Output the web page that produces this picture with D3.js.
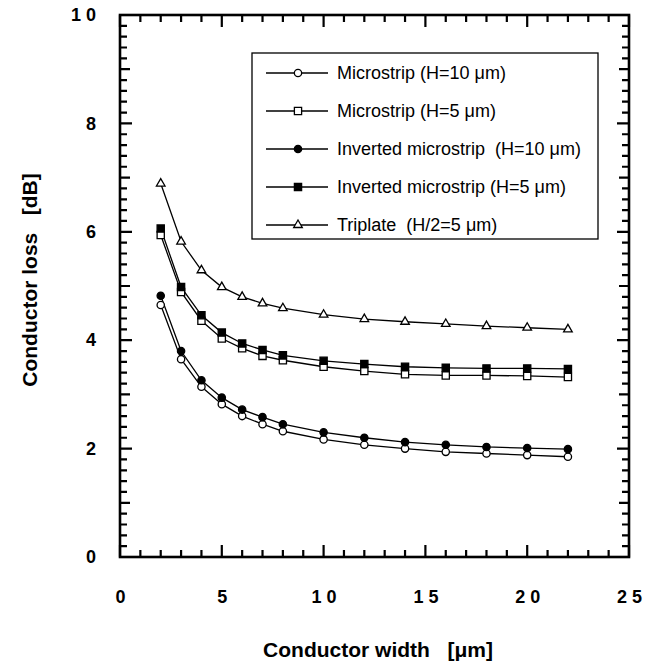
<!DOCTYPE html>
<html>
<head>
<meta charset="utf-8">
<script src="https://cdn.jsdelivr.net/npm/d3@7"></script>
<style>
  body { margin: 0; background: #fff; }
  text { font-family: "Liberation Sans", Arial, Helvetica, sans-serif; fill: #000; }
</style>
</head>
<body>
<script>
// Chart data
let widths = [2, 3, 4, 5, 6, 7, 8, 10, 12, 14, 16, 18, 20, 22];
let microstrip10 = [4.65, 3.65, 3.14, 2.82, 2.60, 2.45, 2.32, 2.17, 2.07, 2.00, 1.94, 1.91, 1.88, 1.85];
let microstrip5 = [5.94, 4.89, 4.36, 4.03, 3.85, 3.71, 3.63, 3.51, 3.43, 3.37, 3.35, 3.35, 3.34, 3.32];
let inverted10 = [4.82, 3.80, 3.26, 2.94, 2.72, 2.58, 2.45, 2.30, 2.20, 2.12, 2.07, 2.03, 2.01, 1.99];
let inverted5 = [6.06, 4.98, 4.46, 4.14, 3.94, 3.82, 3.72, 3.62, 3.56, 3.51, 3.49, 3.48, 3.48, 3.47];
let triplate = [6.89, 5.82, 5.29, 4.98, 4.80, 4.68, 4.59, 4.47, 4.39, 4.34, 4.30, 4.26, 4.23, 4.20];
let seriesNames = [
  "Microstrip (H=10 \u03bcm)",
  "Microstrip (H=5 \u03bcm)",
  "Inverted microstrip  (H=10 \u03bcm)",
  "Inverted microstrip (H=5 \u03bcm)",
  "Triplate  (H/2=5 \u03bcm)"
];
let xTickValues = [0, 5, 10, 15, 20, 25];
let xTickLabels = ["0", "5", "1 0", "1 5", "2 0", "2 5"];
let yTickValues = [0, 2, 4, 6, 8, 10];
let yTickLabels = ["0", "2", "4", "6", "8", "1 0"];

let series = [
  { name: seriesNames[0], values: microstrip10, symbol: d3.symbolCircle, size: 42, filled: false },
  { name: seriesNames[1], values: microstrip5, symbol: d3.symbolSquare, size: 52, filled: false },
  { name: seriesNames[2], values: inverted10, symbol: d3.symbolCircle, size: 42, filled: true },
  { name: seriesNames[3], values: inverted5, symbol: d3.symbolSquare, size: 52, filled: true },
  { name: seriesNames[4], values: triplate, symbol: d3.symbolTriangle, size: 32, filled: false }
];

let margin = { top: 15, right: 26, bottom: 111, left: 120 };
let width = 655 - margin.left - margin.right;
let height = 668 - margin.top - margin.bottom;

let svg = d3.select("body")
  .append("svg")
    .attr("width", 655)
    .attr("height", 668)
  .append("g")
    .attr("transform", "translate(" + margin.left + ", " + margin.top + ")");

let x = d3.scaleLinear().domain([0, 25]).range([0, width]);
let y = d3.scaleLinear().domain([0, 10]).range([height, 0]);

// Frame
svg.append("rect")
  .attr("x", 0)
  .attr("y", 0)
  .attr("width", width)
  .attr("height", height)
  .attr("fill", "none")
  .attr("stroke", "#000")
  .attr("stroke-width", 2.6);

// Inward ticks on all four sides: every 1 on x, every 0.2 on y
let tickPath = d3.path();
d3.range(0, 26).forEach((v) => {
  let len = v % 5 === 0 ? 12 : 7;
  tickPath.moveTo(x(v), height);
  tickPath.lineTo(x(v), height - len);
  tickPath.moveTo(x(v), 0);
  tickPath.lineTo(x(v), len);
});
d3.range(0, 51).forEach((k) => {
  let len = k % 10 === 0 ? 12 : (k % 5 === 0 ? 10 : 7);
  let py = y(k / 5);
  tickPath.moveTo(0, py);
  tickPath.lineTo(len, py);
  tickPath.moveTo(width, py);
  tickPath.lineTo(width - len, py);
});
svg.append("path")
  .attr("d", tickPath.toString())
  .attr("fill", "none")
  .attr("stroke", "#000")
  .attr("stroke-width", 2.2);

// Tick labels
let xLabels = svg.append("g")
  .attr("transform", "translate(0," + height + ")")
  .call(d3.axisBottom(x).tickValues(xTickValues).tickSize(0).tickPadding(33)
    .tickFormat((d, i) => xTickLabels[i]));
xLabels.select(".domain").remove();
xLabels.selectAll("text")
  .style("font-size", "18px")
  .style("font-weight", "bold")
  .style("white-space", "pre");

let yLabels = svg.append("g")
  .call(d3.axisLeft(y).tickValues(yTickValues).tickSize(0).tickPadding(24)
    .tickFormat((d, i) => yTickLabels[i]));
yLabels.select(".domain").remove();
yLabels.selectAll("text")
  .style("font-size", "18px")
  .style("font-weight", "bold")
  .style("white-space", "pre");

// Series lines and markers
let line = d3.line()
  .x((d, i) => x(widths[i]))
  .y((d) => y(d));

series.forEach((s) => {
  svg.append("path")
    .datum(s.values)
    .attr("d", line)
    .attr("fill", "none")
    .attr("stroke", "#000")
    .attr("stroke-width", 1.3);
});

series.forEach((s) => {
  svg.selectAll(null)
    .data(s.values)
    .enter()
    .append("path")
      .attr("transform", (d, i) => "translate(" + x(widths[i]) + "," + y(d) + ")")
      .attr("d", d3.symbol().type(s.symbol).size(s.size))
      .attr("fill", s.filled ? "#000" : "#fff")
      .attr("stroke", "#000")
      .attr("stroke-width", 1.3);
});

// Legend
let legend = svg.append("g")
  .attr("transform", "translate(" + (252 - margin.left) + "," + (53 - margin.top) + ")");

legend.append("rect")
  .attr("width", 346)
  .attr("height", 186)
  .attr("fill", "#fff")
  .attr("stroke", "#000")
  .attr("stroke-width", 1.3);

series.forEach((s, i) => {
  let row = legend.append("g")
    .attr("transform", "translate(0," + (20 + i * 38) + ")");
  row.append("line")
    .attr("x1", 14)
    .attr("x2", 76)
    .attr("stroke", "#000")
    .attr("stroke-width", 1.3);
  row.append("path")
    .attr("transform", "translate(46,0)")
    .attr("d", d3.symbol().type(s.symbol).size(s.size))
    .attr("fill", s.filled ? "#000" : "#fff")
    .attr("stroke", "#000")
    .attr("stroke-width", 1.3);
  row.append("text")
    .attr("x", 85)
    .attr("dy", "0.35em")
    .style("font-size", "18px")
    .style("white-space", "pre")
    .text(s.name);
});

// Axis titles
svg.append("text")
  .attr("x", 378 - margin.left)
  .attr("y", 657 - margin.top)
  .attr("text-anchor", "middle")
  .style("font-size", "21px")
  .style("font-weight", "bold")
  .style("white-space", "pre")
  .text("Conductor width   [\u03bcm]");

svg.append("text")
  .attr("transform", "rotate(-90)")
  .attr("x", -(280 - margin.top))
  .attr("y", 37 - margin.left)
  .attr("text-anchor", "middle")
  .style("font-size", "21px")
  .style("font-weight", "bold")
  .style("white-space", "pre")
  .text("Conductor loss   [dB]");
</script>
</body>
</html>
